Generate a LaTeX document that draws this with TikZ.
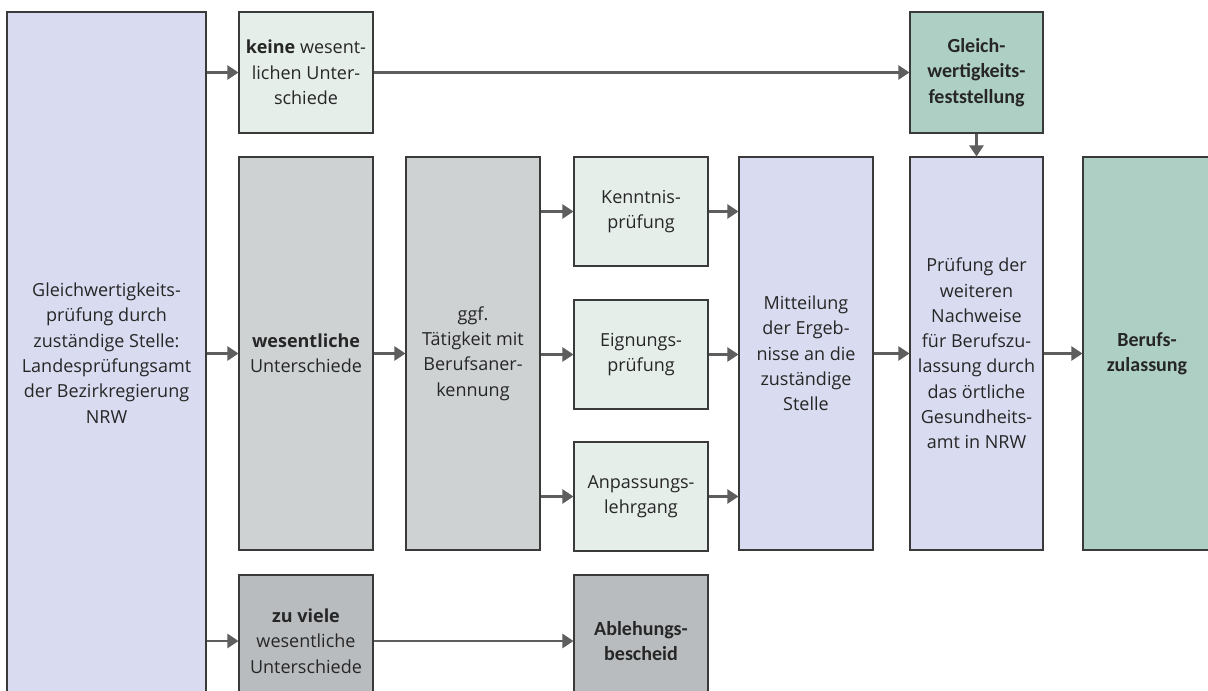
\documentclass[tikz,border=0pt]{standalone}
\usepackage{fontspec}
\setmainfont{Open Sans}
\newfontfamily\calb{Carlito}
\usetikzlibrary{arrows.meta}
\definecolor{lav}{HTML}{D9DCF0}
\definecolor{mintl}{HTML}{E6EEEA}
\definecolor{mintd}{HTML}{AECFC4}
\definecolor{grayl}{HTML}{CFD2D3}
\definecolor{grayd}{HTML}{B9BCBE}
\definecolor{edge}{HTML}{3A3A3A}
\definecolor{arr}{HTML}{5E5E5E}
\definecolor{txt}{HTML}{262626}
\tikzset{
  box/.style={draw=edge, line width=1.1pt, inner sep=1pt, align=center, text=txt,
    font=\fontsize{18}{25.3}\selectfont},
  conn/.style={draw=arr, line width=2.4pt, -{Triangle[length=11pt,width=14pt]}},
}
\newcommand{\kb}[1]{{\calb\bfseries\fontsize{20}{25.3}\selectfont #1}}
\begin{document}
\begin{tikzpicture}[x=1pt,y=-1pt]
\useasboundingbox (0,0) rectangle (1208,691);
\begin{scope}
\clip (0,0) rectangle (1208,691);
\node[box, fill=lav, minimum width=199, minimum height=682] (L) at (106.5,353) {Gleichwertigkeits-\\prüfung durch\\zuständige Stelle:\\Landesprüfungsamt\\der Bezirkregierung\\NRW};
\node[box, fill=mintl, minimum width=134, minimum height=121] (K) at (306,72.5) {{\bfseries keine} wesent-\\lichen Unter-\\schiede};
\node[box, fill=mintd, minimum width=133, minimum height=121] (G) at (976.5,72.5) {\kb{Gleich-}\\\kb{wertigkeits-}\\\kb{feststellung}};
\node[box, fill=grayl, minimum width=134, minimum height=393] (W) at (306,353.5) {{\bfseries wesentliche}\\Unterschiede};
\node[box, fill=grayl, minimum width=134, minimum height=393] (T) at (473,353.5) {ggf.\\Tätigkeit mit\\Berufsaner-\\kennung};
\node[box, fill=mintl, minimum width=134, minimum height=109] (KP) at (641,211.5) {Kenntnis-\\prüfung};
\node[box, fill=mintl, minimum width=134, minimum height=109] (EP) at (641,354.5) {Eignungs-\\prüfung};
\node[box, fill=mintl, minimum width=134, minimum height=109] (AL) at (641,496.5) {Anpassungs-\\lehrgang};
\node[box, fill=lav, minimum width=134, minimum height=393] (M) at (806,353.5) {Mitteilung\\der Ergeb-\\nisse an die\\zuständige\\Stelle};
\node[box, fill=lav, minimum width=133, minimum height=393] (P) at (976.5,353.5) {Prüfung der\\weiteren\\Nachweise\\für Berufszu-\\lassung durch\\das örtliche\\Gesundheits-\\amt in NRW};
\node[box, fill=mintd, minimum width=128, minimum height=393] (B) at (1147,353.5) {\kb{Berufs-}\\\kb{zulassung}};
\node[box, fill=grayd, minimum width=134, minimum height=132] (Z) at (306,641) {{\bfseries zu viele}\\wesentliche\\Unterschiede};
\node[box, fill=grayd, minimum width=134, minimum height=132] (A) at (641,641) {\kb{Ablehungs-}\\\kb{bescheid}};
\end{scope}
\draw[conn] (L.east |- K.west) -- (K.west);
\draw[conn] (K.east) -- (G.west);
\draw[conn] (L.east |- W.west) -- (W.west);
\draw[conn] (L.east |- Z.west) -- (Z.west);
\draw[conn] (W.east) -- (T.west);
\draw[conn] (T.east |- KP.west) -- (KP.west);
\draw[conn] (T.east |- EP.west) -- (EP.west);
\draw[conn] (T.east |- AL.west) -- (AL.west);
\draw[conn] (KP.east) -- (M.west |- KP.east);
\draw[conn] (EP.east) -- (M.west |- EP.east);
\draw[conn] (AL.east) -- (M.west |- AL.east);
\draw[conn] (M.east) -- (P.west);
\draw[conn] (P.east) -- (B.west);
\draw[conn] (G.south) -- (P.north);
\draw[conn] (Z.east) -- (A.west);
\end{tikzpicture}
\end{document}
